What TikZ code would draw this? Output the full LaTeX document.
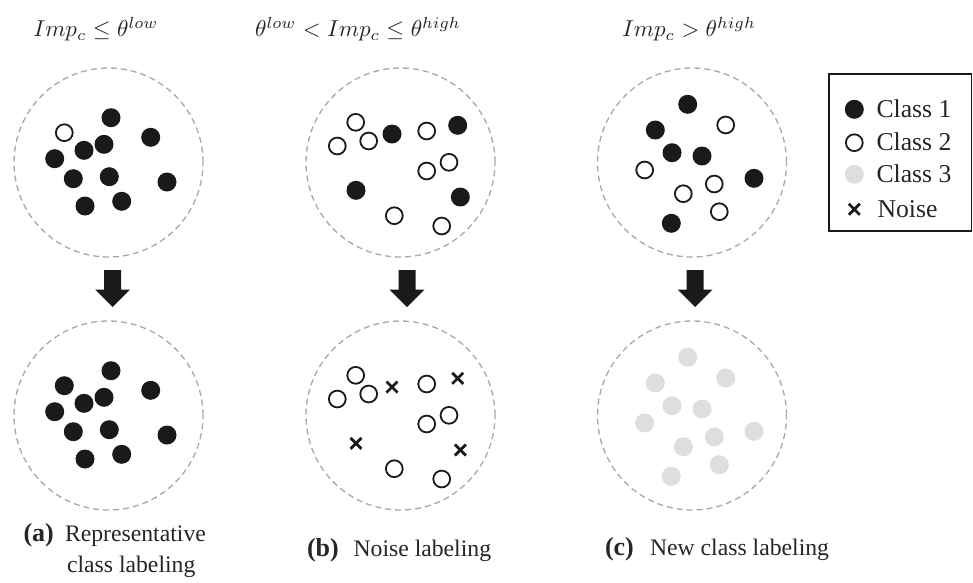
\documentclass[tikz,border=0pt]{standalone}
\usepackage{fontspec}
\setmainfont{Liberation Serif}
\definecolor{ringgray}{HTML}{A8A8A8}
\definecolor{dotblack}{HTML}{1A1A1A}
\definecolor{dotgray}{HTML}{DEDEDE}
\definecolor{inkgray}{HTML}{262626}
\begin{document}
\begin{tikzpicture}[x=1pt,y=-1pt,
  ring/.style={circle, draw=ringgray, line width=1.3pt, dash pattern=on 6pt off 4pt,
    minimum size=189pt, inner sep=0pt},
  cond/.style={anchor=base, scale=2.3, text=inkgray},
  caplab/.style={anchor=base west, text=inkgray, font=\fontsize{26}{30}\selectfont\bfseries},
  captxt/.style={anchor=base west, text=inkgray, font=\fontsize{23.7}{28}\selectfont},
  legtxt/.style={anchor=base west, text=inkgray, font=\fontsize{25.7}{30}\selectfont},
  c1/.pic={\fill[dotblack] (0,0) circle (9.5pt);},
  c2/.pic={\draw[dotblack, line width=1.8pt] (0,0) circle (8.4pt);},
  c3/.pic={\fill[dotgray] (0,0) circle (9.5pt);},
  nz/.pic={\draw[dotblack, line width=2.8pt] (-5.5pt,-5.5pt) -- (5.5pt,5.5pt)
             (-5.5pt,5.5pt) -- (5.5pt,-5.5pt);},
  downarrow/.pic={\fill[dotblack] (-8.5pt,0pt) -- (8.5pt,0pt) -- (8.5pt,-19.5pt)
             -- (17.5pt,-19.5pt) -- (0pt,-37pt) -- (-17.5pt,-19.5pt) -- (-8.5pt,-19.5pt) -- cycle;},
]
\fill[white] (0,0) rectangle (973,582);
\path[use as bounding box] (0,0) rectangle (973,582);

% threshold conditions
\node[cond] (ca) at (95.9,36.7) {$Imp_c \leq \theta^{low}$};
\node[cond] (cb) at (358,36.7) {$\theta^{low} < Imp_c \leq \theta^{high}$};
\node[cond] (cc) at (689,36.7) {$Imp_c > \theta^{high}$};

% clusters before and after labeling
\node[ring] (ta) at (108.5,162.5) {};
\node[ring] (tb) at (400.5,162.5) {};
\node[ring] (tc) at (692,162.5) {};
\node[ring] (ba) at (108.5,415.5) {};
\node[ring] (bb) at (400.5,415.5) {};
\node[ring] (bc) at (692,415.5) {};

% block arrows between the rows
\pic at (112.7,270) {downarrow};
\pic at (407,270) {downarrow};
\pic at (695,270) {downarrow};

% (a) mostly class 1
\pic at (64.3,132.7) {c2};
\foreach \x/\y in {111/117.7,150.7/137.3,104/144.3,84/150.3,54.7/158.7,73.3/178.7,
                   109.3/176.7,167/182,85/206,121.7/201.3}
  \pic at (\x,\y) {c1};
\foreach \x/\y in {64.3/132.7,111/117.7,150.7/137.3,104/144.3,84/150.3,54.7/158.7,
                   73.3/178.7,109.3/176.7,167/182,85/206,121.7/201.3}
  \pic at (\x,\y+253) {c1};

% (b) mostly class 2 with a few class 1
\foreach \x/\y in {355.7/122.3,337.3/146,368.7/141,426.7/131,449/162.3,426.7/171,
                   394.3/215.7,441.7/226}
  {\pic at (\x,\y) {c2}; \pic at (\x,\y+253) {c2};}
\foreach \x/\y in {392/134,457.7/125.3,356/190.3,460.3/197}
  {\pic at (\x,\y) {c1}; \pic at (\x,\y+253) {nz};}

% (c) mixed classes become a new class
\foreach \x/\y in {687.7/104.3,655.3/130,672/152.7,702/156,754/178.3,671.3/223.3}
  {\pic at (\x,\y) {c1}; \pic at (\x,\y+253) {c3};}
\foreach \x/\y in {725.7/125,644.7/170,714.3/184,683.3/193.7,719.3/211.7}
  {\pic at (\x,\y) {c2}; \pic at (\x,\y+253) {c3};}

% legend
\node[draw=dotblack, line width=1.3pt, inner sep=0pt, minimum width=142.5pt,
      minimum height=157pt] (legend) at (900.25,152.5) {};
\pic at (854.3,109.3) {c1};
\pic at (854.3,142.7) {c2};
\pic at (854.3,174.3) {c3};
\pic at (854.3,209.3) {nz};
\node[legtxt] (l1) at (873,117) {Class 1};
\node[legtxt] (l2) at (873,150.5) {Class 2};
\node[legtxt] (l3) at (873,182) {Class 3};
\node[legtxt] (l4) at (874,217) {Noise};

% captions
\node[caplab] (pa) at (20,541) {(a)};
\node[captxt] (ta1) at (61.5,541) {Representative};
\node[captxt] (ta2) at (63.5,572) {class labeling};
\node[caplab] (pb) at (303.5,556) {(b)};
\node[captxt] (tb1) at (350,556) {Noise labeling};
\node[caplab] (pc) at (601.5,555) {(c)};
\node[captxt] (tc1) at (646.5,555) {New class labeling};
\end{tikzpicture}
\end{document}
